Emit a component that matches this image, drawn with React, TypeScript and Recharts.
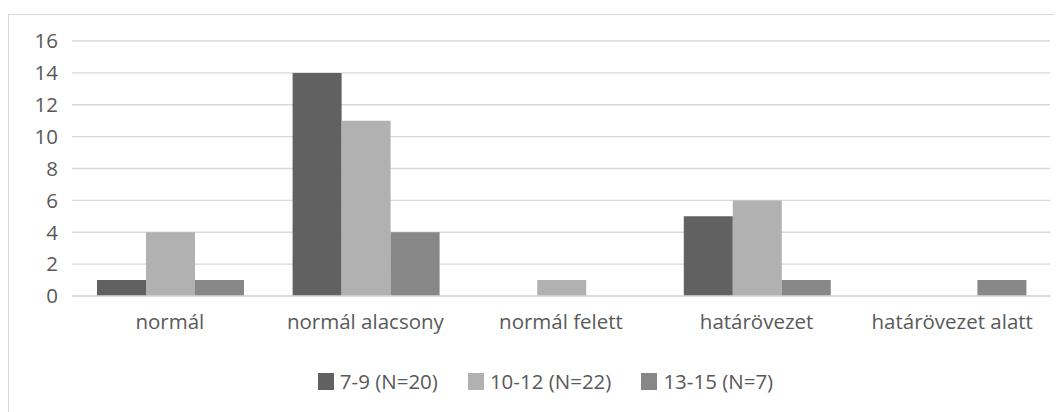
import React from "react";
import { BarChart, Bar, XAxis, YAxis, CartesianGrid, Legend } from "recharts";

const categories = [
  "normál",
  "normál alacsony",
  "normál felett",
  "határövezet",
  "határövezet alatt",
];
const age7to9 = [1, 14, 0, 5, 0];
const age10to12 = [4, 11, 1, 6, 0];
const age13to15 = [1, 4, 0, 1, 1];
const yTicks = [0, 2, 4, 6, 8, 10, 12, 14, 16];

const seriesNames = ["7-9 (N=20)", "10-12 (N=22)", "13-15 (N=7)"];
const colors = ["#616161", "#b1b1b1", "#878787"];

const data = categories.map((name, i) => ({
  name,
  a: age7to9[i],
  b: age10to12[i],
  c: age13to15[i],
}));

const font = "'Open Sans', sans-serif";
const textColor = "#595959";

// legend drawn from the payload recharts hands over, kept in series order
const renderLegend = (props: any) => {
  const payload = [...(props.payload || [])].sort(
    (p: any, q: any) => seriesNames.indexOf(p.value) - seriesNames.indexOf(q.value)
  );
  return (
    <div style={{ display: "flex", justifyContent: "center", fontFamily: font, paddingLeft: 20 }}>
      {payload.map((entry: any, i: number) => (
        <div
          key={i}
          style={{ display: "flex", alignItems: "center", marginRight: i < payload.length - 1 ? 30 : 0 }}
        >
          <span style={{ width: 16, height: 17, background: entry.color, marginRight: 6, display: "inline-block" }} />
          <span style={{ fontSize: 20.5, color: textColor, lineHeight: "24px" }}>{entry.value}</span>
        </div>
      ))}
    </div>
  );
};

export default function App() {
  return (
    <div
      style={{
        marginTop: 6,
        width: 1053,
        height: 397,
        borderTop: "1px solid #d9d9d9",
        borderLeft: "1px solid #d9d9d9",
        background: "#fff",
      }}
    >
      <BarChart
        width={1053}
        height={397}
        data={data}
        margin={{ top: 26, right: 12, left: 13, bottom: 76 }}
        barCategoryGap={25}
        barGap={0}
      >
        <CartesianGrid vertical={false} stroke="#d9d9d9" strokeWidth={1.3} />
        <XAxis
          dataKey="name"
          height={40}
          tickLine={false}
          tickSize={0}
          tickMargin={18}
          axisLine={{ stroke: "#d9d9d9", strokeWidth: 1.3 }}
          tick={{ fill: textColor, fontSize: 20.5, fontFamily: font }}
          interval={0}
        />
        <YAxis
          width={50}
          domain={[0, 16]}
          ticks={yTicks}
          axisLine={false}
          tickLine={false}
          tickSize={0}
          tickMargin={14}
          tick={{ fill: textColor, fontSize: 20.5, fontFamily: font }}
        />
        <Legend
          verticalAlign="middle"
          align="center"
          content={renderLegend}
          wrapperStyle={{ top: 354, left: 0, width: 1053 }}
        />
        <Bar dataKey="a" name={seriesNames[0]} fill={colors[0]} isAnimationActive={false} />
        <Bar dataKey="b" name={seriesNames[1]} fill={colors[1]} isAnimationActive={false} />
        <Bar dataKey="c" name={seriesNames[2]} fill={colors[2]} isAnimationActive={false} />
      </BarChart>
    </div>
  );
}
